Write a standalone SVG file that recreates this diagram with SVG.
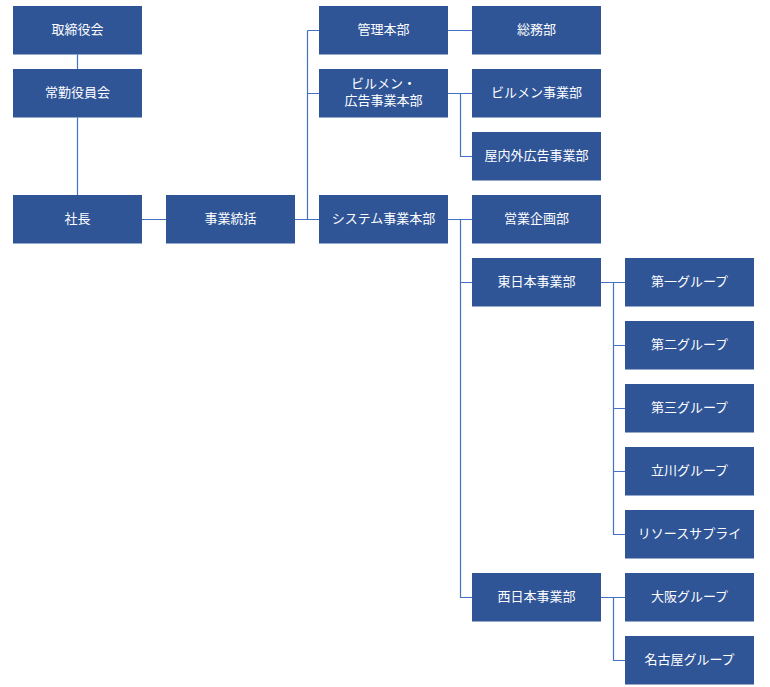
<svg xmlns="http://www.w3.org/2000/svg" width="770" height="687" viewBox="0 0 770 687">
<style>
.b{fill:#2F5597}
.t{fill:#FFFFFF;font-family:"Noto Sans CJK JP","Noto Sans",sans-serif;font-size:13px;text-anchor:middle;dominant-baseline:central}
.c{stroke:#4472C4;stroke-width:1.2;fill:none}
</style>
<rect width="770" height="687" fill="#FFFFFF"/>
<g id="connectors">
<path class="c" d="M77.5 54.5V69M77.5 117.5V195M142 219.5H166M295 219.5H319M307.5 30.5V219.5M307.5 30.5H319M307.5 93.5H319M448 30.5H472M448 93.5H472M460.5 93.5V156.5H472M448 219.5H472M460.5 219.5V597.5H472M460.5 282.5H472M601 282.5H625M613.5 282.5V534.5H625M613.5 345.5H625M613.5 408.5H625M613.5 471.5H625M601 597.5H625M613.5 597.5V660.5H625"/>
</g>
<g id="n1"><rect class="b" x="13" y="6" width="129" height="48.5"/><text class="t" x="77.5" y="28">取締役会</text></g>
<g id="n2"><rect class="b" x="13" y="69" width="129" height="48.5"/><text class="t" x="77.5" y="91">常勤役員会</text></g>
<g id="n3"><rect class="b" x="13" y="195" width="129" height="48.5"/><text class="t" x="77.5" y="217">社長</text></g>
<g id="n4"><rect class="b" x="166" y="195" width="129" height="48.5"/><text class="t" x="230.5" y="217">事業統括</text></g>
<g id="n5"><rect class="b" x="319" y="6" width="129" height="48.5"/><text class="t" x="383.5" y="28">管理本部</text></g>
<g id="n6"><rect class="b" x="319" y="69" width="129" height="48.5"/><text class="t" x="383.5" y="82"><tspan x="383.5" y="82">ビルメン・</tspan><tspan x="383.5" y="99">広告事業本部</tspan></text></g>
<g id="n7"><rect class="b" x="319" y="195" width="129" height="48.5"/><text class="t" x="383.5" y="217">システム事業本部</text></g>
<g id="n8"><rect class="b" x="472" y="6" width="129" height="48.5"/><text class="t" x="536.5" y="28">総務部</text></g>
<g id="n9"><rect class="b" x="472" y="69" width="129" height="48.5"/><text class="t" x="536.5" y="91">ビルメン事業部</text></g>
<g id="n10"><rect class="b" x="472" y="132" width="129" height="48.5"/><text class="t" x="536.5" y="154">屋内外広告事業部</text></g>
<g id="n11"><rect class="b" x="472" y="195" width="129" height="48.5"/><text class="t" x="536.5" y="217">営業企画部</text></g>
<g id="n12"><rect class="b" x="472" y="258" width="129" height="48.5"/><text class="t" x="536.5" y="280">東日本事業部</text></g>
<g id="n13"><rect class="b" x="472" y="573" width="129" height="48.5"/><text class="t" x="536.5" y="595">西日本事業部</text></g>
<g id="n14"><rect class="b" x="625" y="258" width="129" height="48.5"/><text class="t" x="689.5" y="280">第一グループ</text></g>
<g id="n15"><rect class="b" x="625" y="321" width="129" height="48.5"/><text class="t" x="689.5" y="343">第二グループ</text></g>
<g id="n16"><rect class="b" x="625" y="384" width="129" height="48.5"/><text class="t" x="689.5" y="406">第三グループ</text></g>
<g id="n17"><rect class="b" x="625" y="447" width="129" height="48.5"/><text class="t" x="689.5" y="469">立川グループ</text></g>
<g id="n18"><rect class="b" x="625" y="510" width="129" height="48.5"/><text class="t" x="689.5" y="532">リソースサプライ</text></g>
<g id="n19"><rect class="b" x="625" y="573" width="129" height="48.5"/><text class="t" x="689.5" y="595">大阪グループ</text></g>
<g id="n20"><rect class="b" x="625" y="636" width="129" height="48.5"/><text class="t" x="689.5" y="658">名古屋グループ</text></g>
</svg>
